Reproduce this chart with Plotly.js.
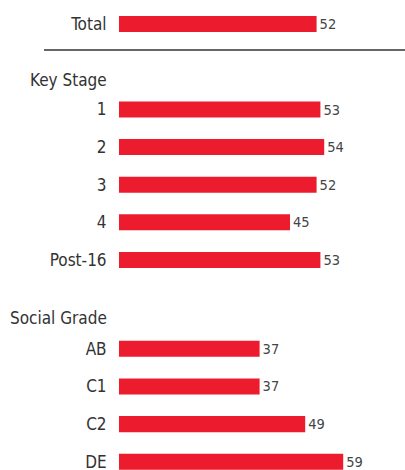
<!DOCTYPE html>
<html>
<head>
<meta charset="utf-8">
<script src="https://cdn.plot.ly/plotly-3.0.1.min.js"></script>
<style>html,body{margin:0;padding:0;background:#fff;}#chart{width:405px;height:470px;}</style>
</head>
<body>
<div id="chart"></div>
<script>
// Data
const totalCats = ['Total'];
const totalVals = [52];
const keyStageCats = ['1', '2', '3', '4', 'Post-16'];
const keyStageVals = [53, 54, 52, 45, 53];
const socialGradeCats = ['AB', 'C1', 'C2', 'DE'];
const socialGradeVals = [37, 37, 49, 59];
const groupHeaders = ['Key Stage', 'Social Grade'];

const FONT = 'Liberation Sans Narrow, DejaVu Sans Condensed, Arial Narrow, sans-serif';
const RED = '#ed1b2e';

function barTrace(cats, vals, yaxis) {
  return {
    type: 'bar', orientation: 'h', x: vals, y: cats, yaxis: yaxis, xaxis: 'x',
    marker: {color: RED},
    text: vals.map(String), textposition: 'outside', cliponaxis: false,
    constraintext: 'none',
    textfont: {family: FONT, size: 14.5, color: '#444'},
    hoverinfo: 'skip'
  };
}

const data = [
  barTrace(totalCats, totalVals, 'y'),
  barTrace(keyStageCats, keyStageVals, 'y2'),
  barTrace(socialGradeCats, socialGradeVals, 'y3')
];

function yAx(domain, range) {
  return {
    type: 'category', domain: domain, range: range, anchor: 'x',
    showgrid: false, zeroline: false, showline: false,
    ticks: 'outside', ticklen: 8, tickcolor: 'rgba(0,0,0,0)',
    tickfont: {family: FONT, size: 17, color: '#333'},
    fixedrange: true
  };
}

const H = 470;
const layout = {
  width: 405, height: 470,
  margin: {l: 0, r: 0, t: 0, b: 0},
  paper_bgcolor: '#fff', plot_bgcolor: '#fff',
  showlegend: false,
  bargap: 0.5745,
  font: {family: FONT, color: '#333'},
  xaxis: {domain: [119/405, 1], range: [0, 286/3.8], visible: false, fixedrange: true},
  yaxis: yAx([1 - 42.8/H, 1 - 5.2/H], [0.5, -0.5]),
  yaxis2: yAx([1 - 278.7/H, 1 - 90.7/H], [4.5, -0.5]),
  yaxis3: yAx([0, 1 - 330/H], [-0.5 + 140/37.65, -0.5]),
  annotations: [
    {text: groupHeaders[0], xref: 'paper', yref: 'paper', x: 109/405, y: 1 - 80/H,
     xanchor: 'right', yanchor: 'middle', showarrow: false,
     font: {family: FONT, size: 17, color: '#333'}},
    {text: groupHeaders[1], xref: 'paper', yref: 'paper', x: 109/405, y: 1 - 318/H,
     xanchor: 'right', yanchor: 'middle', showarrow: false,
     font: {family: FONT, size: 17, color: '#333'}}
  ],
  shapes: [
    {type: 'line', xref: 'paper', yref: 'paper', x0: 44/405, x1: 1, y0: 1 - 50/H, y1: 1 - 50/H,
     line: {color: '#333', width: 1.5}}
  ]
};

Plotly.newPlot('chart', data, layout, {staticPlot: true, displayModeBar: false});
</script>
</body>
</html>
